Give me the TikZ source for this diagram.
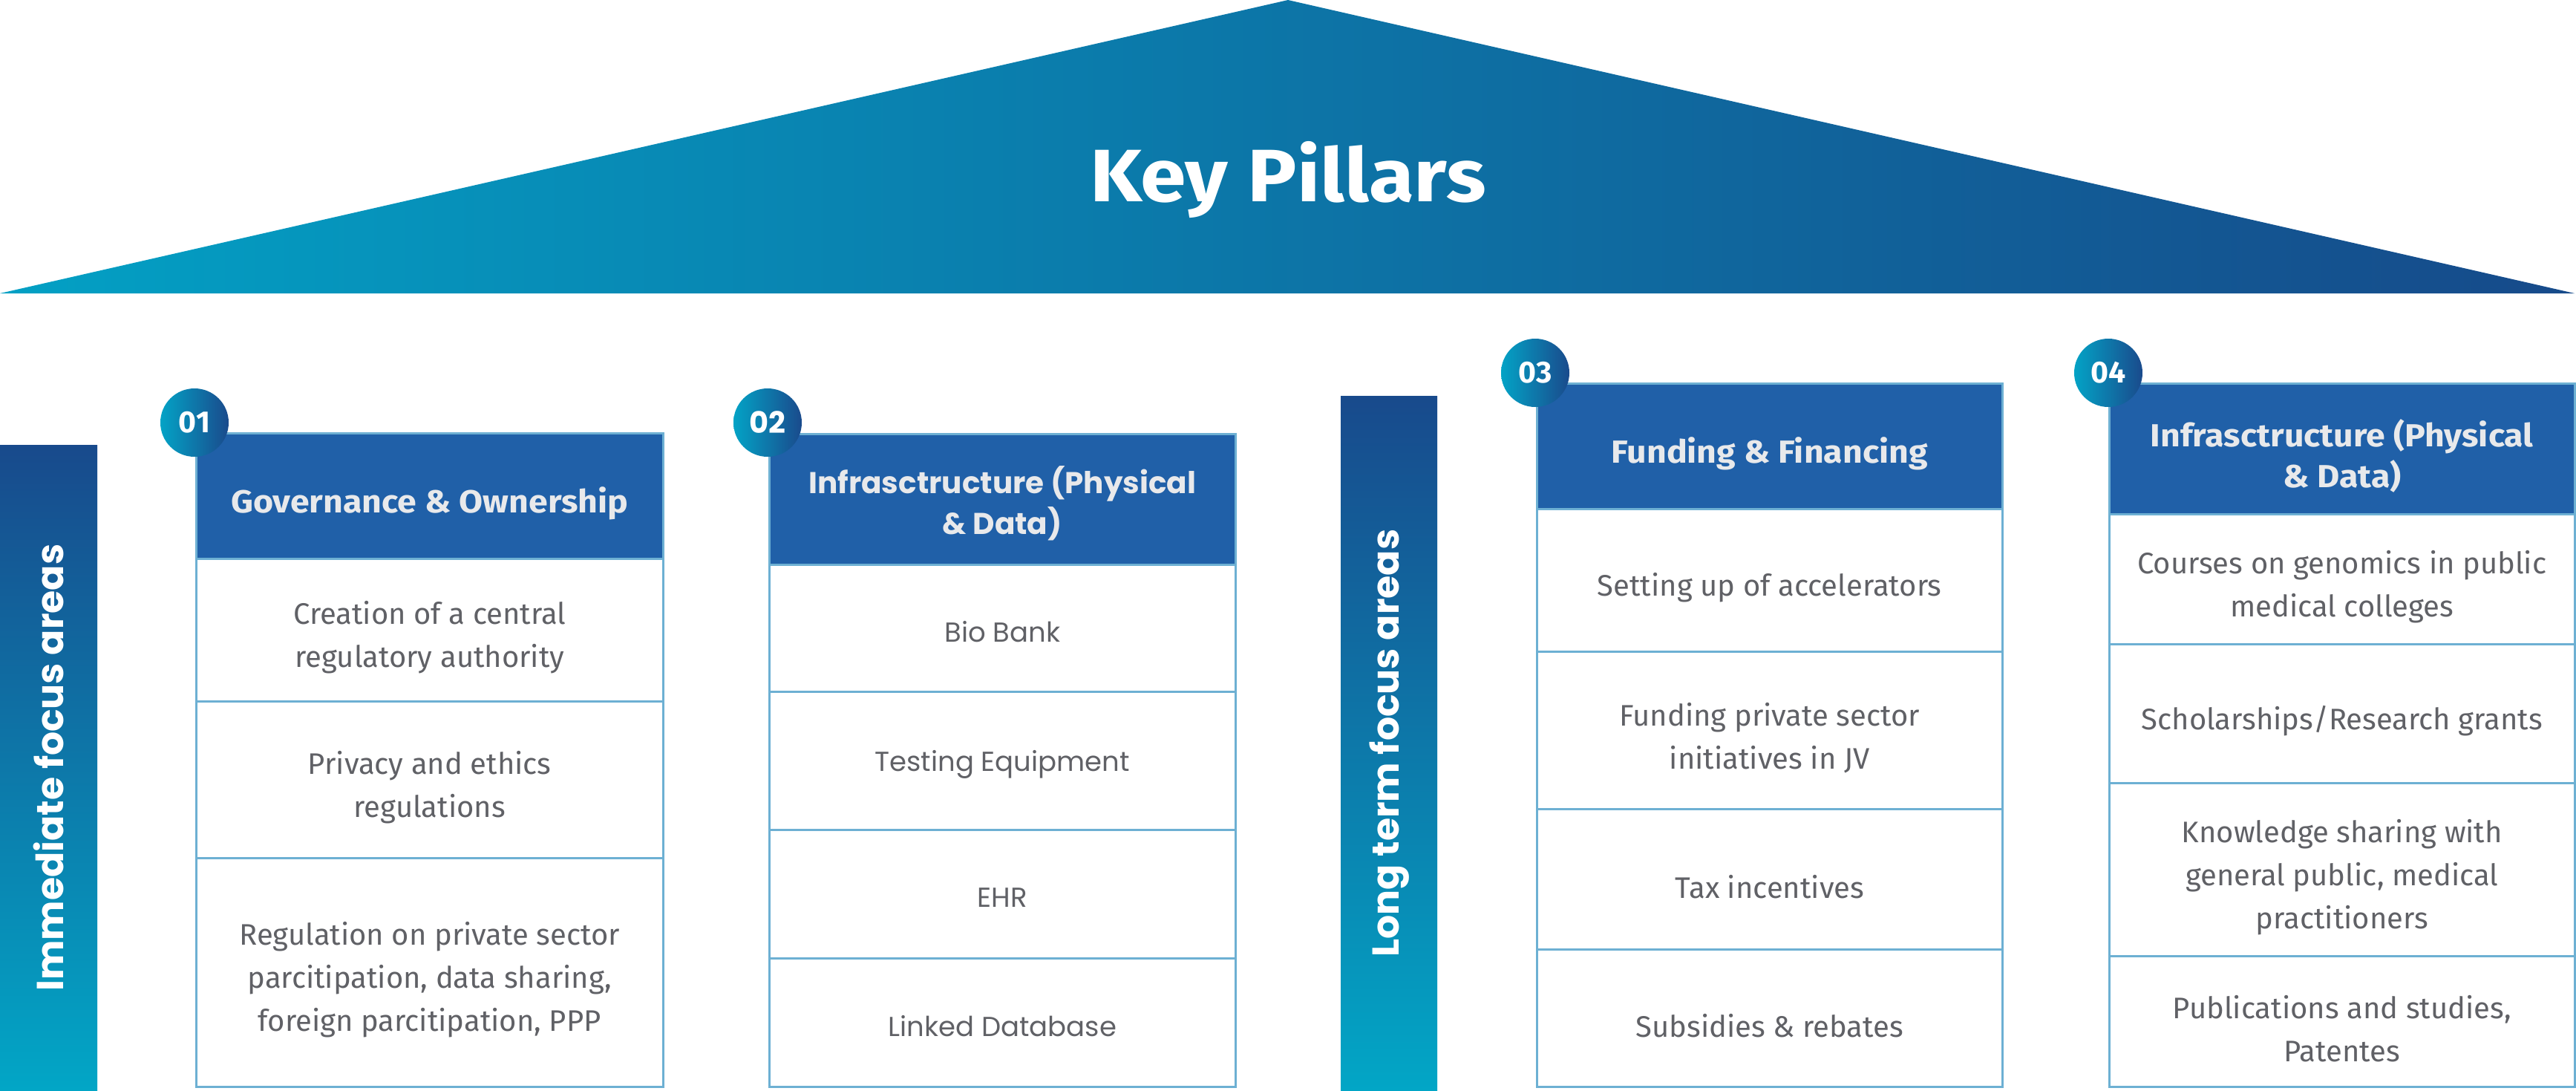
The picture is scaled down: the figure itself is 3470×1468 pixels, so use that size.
\documentclass[tikz,border=0pt]{standalone}
\usepackage{fontspec}
\setmainfont{Fira Sans}
\newfontfamily\fira{Fira Sans}
\newfontfamily\firawide[FakeStretch=1.08]{Fira Sans}
\newfontfamily\firatitle[FakeStretch=1.11]{Fira Sans}
\newfontfamily\pop{Poppins}
\definecolor{triA}{HTML}{03A0C4}
\definecolor{triB}{HTML}{1670B6}
\definecolor{triC}{HTML}{164A8A}
\definecolor{barTop}{HTML}{184A8C}
\definecolor{barBot}{HTML}{02A6C6}
\definecolor{headFill}{HTML}{2060A8}
\definecolor{cellLine}{HTML}{6DB0D3}
\definecolor{bodyText}{HTML}{606166}
\definecolor{headText}{HTML}{E8E9EB}
\definecolor{circA}{HTML}{03A3C6}
\definecolor{circB}{HTML}{1A4A8C}
\tikzset{
  cellbg/.style={draw=cellLine, line width=2.5pt, fill=white, inner sep=0pt, anchor=north west,
    minimum width=#1},
  headbg/.style={draw=cellLine, line width=2.5pt, fill=headFill, inner sep=0pt, anchor=north west,
    minimum width=#1},
  bodytxt/.style={align=center, text=bodyText, inner sep=0pt, yshift=-10pt,
    font=\fira\fontsize{40}{58}\selectfont},
  bodytxtB/.style={align=center, text=bodyText, inner sep=0pt, yshift=-5pt,
    font=\pop\fontsize{37}{58}\selectfont},
  headtxt/.style={align=center, text=headText, inner sep=0pt, yshift=-10pt,
    font=\firawide\bfseries\fontsize{43}{55}\selectfont},
  headtxtB/.style={align=center, text=headText, inner sep=0pt, yshift=-5pt,
    font=\pop\bfseries\fontsize{40.5}{55}\selectfont},
  numcirc/.style={circle, minimum size=92pt, inner sep=0pt, left color=circA, right color=circB,
    text=white, font=\fira\bfseries\fontsize{41}{41}\selectfont},
  focusbar/.style={inner sep=0pt, anchor=north west, top color=barTop, bottom color=barBot},
  barlabel/.style={rotate=90, text=white, font=\pop\bfseries\fontsize{50.5}{50.5}\selectfont},
}
\newcommand{\cellrow}[6]{% name, x, y, width, height, text ; style suffix via #6
  \node[cellbg=#4, minimum height=#5] (#1) at (#2,#3) {};
  \node[#6] (#1t) at (#1.center) {\csname celltext\endcsname};}
\begin{document}
\begin{tikzpicture}[x=1pt,y=-1pt]
\useasboundingbox (0,0) rectangle (3470,1468);
% roof
\shade[left color=triA, middle color=triB, right color=triC] (0,395) -- (1735,0) -- (3468,395) -- cycle;
\node[text=white, font=\firatitle\bfseries\fontsize{100}{100}\selectfont] (title) at (1735,242) {Key Pillars};
% focus bars
\node[focusbar, minimum width=131pt, minimum height=869pt] (bar1) at (0,599) {};
\node[barlabel] (lab1) at (bar1.center) {Immediate focus areas};
\node[focusbar, minimum width=130pt, minimum height=935pt] (bar2) at (1806,533) {};
\node[barlabel] (lab2) at (bar2.center) {Long term focus areas};
% box 1
\node[headbg=629pt, minimum height=169pt] (h1) at (263,582) {};
\node[headtxt] (h1t) at (h1.center) {Governance \& Ownership};
\node[cellbg=629pt, minimum height=192pt] (r11) at (263,751) {};
\node[bodytxt] (r11t) at (r11.center) {Creation of a central\\regulatory authority};
\node[cellbg=629pt, minimum height=211pt] (r12) at (263,943) {};
\node[bodytxt] (r12t) at (r12.center) {Privacy and ethics\\regulations};
\node[cellbg=629pt, minimum height=308pt] (r13) at (263,1154) {};
\node[bodytxt] (r13t) at (r13.center) {Regulation on private sector\\parcitipation, data sharing,\\foreign parcitipation, PPP};
% box 2
\node[headbg=628pt, minimum height=176pt] (h2) at (1035,583) {};
\node[headtxtB] (h2t) at (h2.center) {Infrasctructure (Physical\\\& Data)};
\node[cellbg=628pt, minimum height=171pt] (r21) at (1035,759) {};
\node[bodytxtB] (r21t) at (r21.center) {Bio Bank};
\node[cellbg=628pt, minimum height=186pt] (r22) at (1035,930) {};
\node[bodytxtB] (r22t) at (r22.center) {Testing Equipment};
\node[cellbg=628pt, minimum height=173pt] (r23) at (1035,1116) {};
\node[bodytxtB] (r23t) at (r23.center) {EHR};
\node[cellbg=628pt, minimum height=173pt] (r24) at (1035,1289) {};
\node[bodytxtB] (r24t) at (r24.center) {Linked Database};
% box 3
\node[headbg=627pt, minimum height=169pt] (h3) at (2069,515) {};
\node[headtxt] (h3t) at (h3.center) {Funding \& Financing};
\node[cellbg=627pt, minimum height=192pt] (r31) at (2069,684) {};
\node[bodytxt] (r31t) at (r31.center) {Setting up of accelerators};
\node[cellbg=627pt, minimum height=212pt] (r32) at (2069,876) {};
\node[bodytxt] (r32t) at (r32.center) {Funding private sector\\initiatives in JV};
\node[cellbg=627pt, minimum height=189pt] (r33) at (2069,1088) {};
\node[bodytxt] (r33t) at (r33.center) {Tax incentives};
\node[cellbg=627pt, minimum height=185pt] (r34) at (2069,1277) {};
\node[bodytxt] (r34t) at (r34.center) {Subsidies \& rebates};
% box 4
\node[headbg=627pt, minimum height=176pt] (h4) at (2840,515) {};
\node[headtxt] (h4t) at (h4.center) {Infrasctructure (Physical\\\& Data)};
\node[cellbg=627pt, minimum height=175pt] (r41) at (2840,691) {};
\node[bodytxt] (r41t) at (r41.center) {Courses on genomics in public\\medical colleges};
\node[cellbg=627pt, minimum height=187pt] (r42) at (2840,866) {};
\node[bodytxt] (r42t) at (r42.center) {Scholarships/Research grants};
\node[cellbg=627pt, minimum height=233pt] (r43) at (2840,1053) {};
\node[bodytxt] (r43t) at (r43.center) {Knowledge sharing with\\general public, medical\\practitioners};
\node[cellbg=627pt, minimum height=176pt] (r44) at (2840,1286) {};
\node[bodytxt] (r44t) at (r44.center) {Publications and studies,\\Patentes};
% number circles
\node[numcirc] (c1) at (262,569) {01};
\node[numcirc, font=\pop\bfseries\fontsize{40}{40}\selectfont] (c2) at (1034,569) {02};
\node[numcirc] (c3) at (2068,502) {03};
\node[numcirc] (c4) at (2840,502) {04};
\end{tikzpicture}
\end{document}
